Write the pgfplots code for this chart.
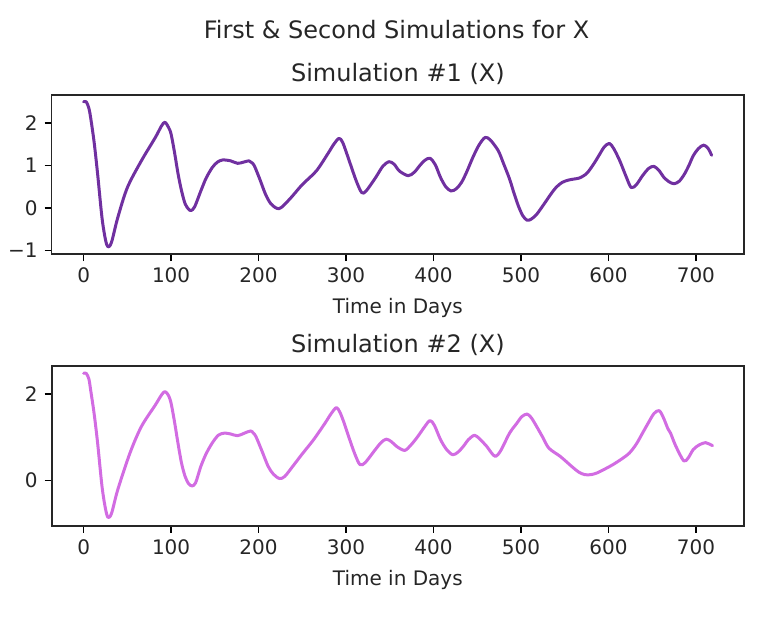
\documentclass[border=0pt]{standalone}
\usepackage{fontspec}
\setmainfont{DejaVu Sans}
\usepackage{pgfplots}
\pgfplotsset{compat=1.18}
\definecolor{topc}{RGB}{112,48,160}
\definecolor{botc}{RGB}{210,108,226}
\pgfplotstableread{
day y
0 2.50
3 2.50
6 2.35
8 2.13
12 1.55
16 0.80
21 -0.23
25 -0.75
28 -0.92
32 -0.80
39 -0.23
50 0.48
66 1.11
82 1.66
89 1.93
93 2.02
97 1.90
100 1.74
104 1.30
108 0.80
112 0.40
116 0.10
120 -0.03
123 -0.06
127 0.03
134 0.40
140 0.70
147 0.95
153 1.08
159 1.13
168 1.11
176 1.05
183 1.08
189 1.11
192 1.07
195 1.00
201 0.70
208 0.32
214 0.10
221 -0.01
226 0.01
237 0.24
250 0.55
266 0.87
279 1.27
286 1.50
292 1.64
296 1.55
300 1.33
305 1.03
312 0.62
318 0.36
323 0.40
334 0.72
342 0.98
349 1.09
355 1.03
361 0.87
371 0.76
378 0.84
384 0.99
390 1.12
396 1.17
402 1.02
408 0.72
414 0.50
420 0.40
426 0.45
432 0.60
438 0.85
445 1.19
452 1.48
459 1.66
465 1.60
474 1.35
480 1.05
487 0.68
492 0.35
497 0.05
502 -0.18
507 -0.29
512 -0.26
518 -0.15
526 0.08
534 0.32
540 0.48
547 0.60
555 0.66
566 0.70
571 0.75
576 0.83
583 1.03
589 1.23
595 1.43
601 1.52
606 1.40
613 1.11
620 0.75
626 0.48
632 0.55
639 0.76
646 0.93
652 0.98
658 0.88
663 0.73
669 0.62
675 0.57
681 0.63
687 0.80
692 1.00
697 1.23
703 1.40
709 1.48
714 1.40
718 1.24
}\simone
\pgfplotstableread{
day y
0 2.48
3 2.48
6 2.35
8 2.10
12 1.55
16 0.87
21 -0.13
25 -0.65
28 -0.85
32 -0.75
39 -0.21
53 0.64
66 1.25
82 1.75
89 1.98
93 2.06
97 1.97
100 1.79
104 1.35
108 0.85
112 0.40
116 0.10
120 -0.07
124 -0.12
128 -0.05
134 0.33
140 0.62
147 0.87
154 1.05
161 1.10
168 1.08
176 1.04
184 1.10
191 1.15
194 1.10
197 1.02
204 0.68
211 0.33
217 0.15
224 0.05
230 0.10
239 0.33
250 0.62
263 0.95
276 1.33
283 1.55
289 1.69
293 1.58
297 1.38
303 1.02
310 0.62
316 0.37
322 0.42
332 0.68
340 0.88
346 0.96
352 0.90
358 0.79
367 0.70
374 0.82
382 1.02
390 1.25
396 1.39
401 1.28
408 0.95
415 0.72
422 0.60
428 0.66
434 0.79
440 0.95
447 1.05
453 0.96
461 0.79
466 0.65
471 0.56
477 0.70
487 1.10
495 1.32
501 1.48
507 1.54
512 1.45
518 1.25
525 1.00
532 0.75
545 0.56
558 0.33
566 0.20
573 0.14
580 0.14
587 0.18
596 0.27
605 0.37
615 0.50
624 0.64
632 0.85
639 1.10
646 1.35
652 1.55
658 1.62
663 1.45
668 1.20
671 1.10
677 0.80
686 0.46
691 0.52
697 0.72
704 0.83
711 0.88
715 0.85
719 0.81
}\simtwo
\pgfplotsset{
  simax/.style={
    scale only axis,
    anchor=north west,
    width=346.15pt,
    xmin=-36.5, xmax=755,
    xtick={0,100,...,700},
    tick align=outside,
    xtick pos=bottom, ytick pos=left,
    major tick length=3.5pt,
    every tick/.style={black, line width=0.8pt},
    axis line style={line width=0.8pt, black!85},
    tick label style={font=\fontsize{10}{12}\selectfont, text=black!85},
    /pgf/number format/assume math mode=true,
    title style={at={(axis description cs:0.5,1)}, anchor=base, yshift=0.9pt,
      inner sep=0pt, font=\fontsize{12}{14}\selectfont, text=black!85},
    xlabel style={at={(axis description cs:0.5,0)}, anchor=base, yshift=-29.65pt,
      inner sep=0pt, font=\fontsize{10}{12}\selectfont, text=black!85},
    xlabel={Time in Days},
  }
}
\begin{document}
\begin{tikzpicture}
\useasboundingbox (0,0) rectangle (391pt,-308pt);
\node[anchor=base, inner sep=0pt, font=\fontsize{12}{14}\selectfont, text=black!85]
  at (198.25pt,-19.15pt) {First \& Second Simulations for X};
\begin{axis}[simax,
  at={(25.85pt,-47.5pt)}, height=79.5pt,
  ymin=-1.085, ymax=2.66,
  ytick={-1,0,1,2}, yticklabels={−1,0,1,2},
  title={Simulation \#1 (X)}]
\addplot[topc, line width=1.5pt, smooth, line join=round, line cap=round] table[x=day, y=y] {\simone};
\end{axis}
\begin{axis}[simax,
  at={(25.85pt,-183pt)}, height=79.85pt,
  ymin=-1.04, ymax=2.65,
  ytick={0,2}, yticklabels={0,2},
  title={Simulation \#2 (X)}]
\addplot[botc, line width=1.5pt, smooth, line join=round, line cap=round] table[x=day, y=y] {\simtwo};
\end{axis}
\end{tikzpicture}
\end{document}
